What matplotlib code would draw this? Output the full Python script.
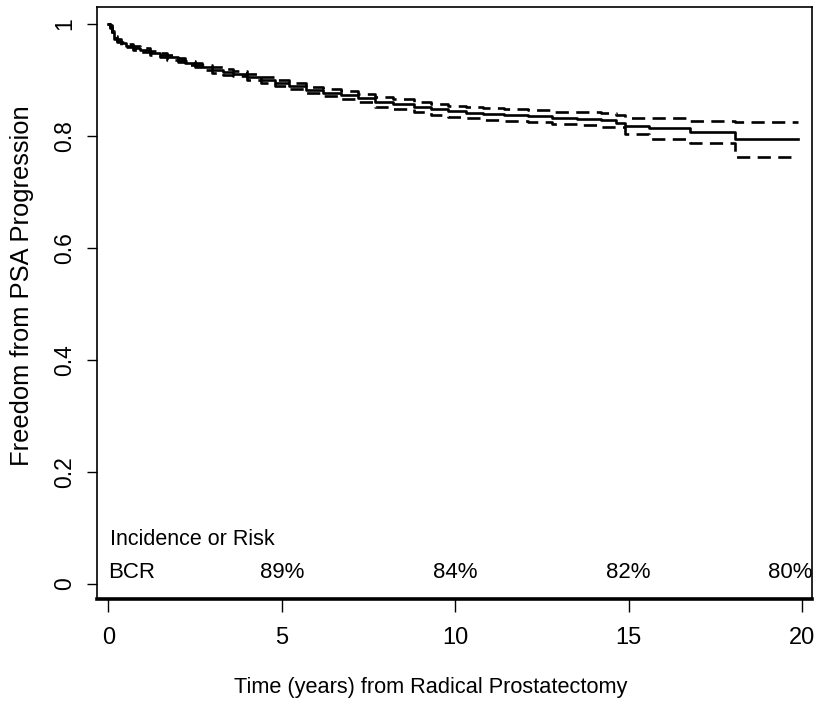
import matplotlib
matplotlib.use("Agg")
import matplotlib.pyplot as plt
from matplotlib import font_manager

# ---- data ----
times = [0, 0.05, 0.1, 0.15, 0.25, 0.35, 0.5, 0.7, 0.9, 1.2, 1.5, 1.7, 2.0, 2.2, 2.5,
         2.7, 3.0, 3.3, 3.6, 4.0, 4.4, 4.8, 5.2, 5.7, 6.2, 6.7, 7.2, 7.7, 8.2, 8.8,
         9.3, 9.8, 10.3, 10.8, 11.4, 12.1, 12.8, 13.5, 14.2, 14.65, 14.9, 15.6,
         16.77, 18.08, 19.88]
surv = [1.000, 0.995, 0.985, 0.975, 0.970, 0.965, 0.961, 0.957, 0.953, 0.948, 0.944,
        0.940, 0.935, 0.930, 0.926, 0.922, 0.918, 0.914, 0.911, 0.905, 0.900, 0.895,
        0.889, 0.882, 0.877, 0.873, 0.868, 0.860, 0.856, 0.851, 0.847, 0.844, 0.841,
        0.839, 0.837, 0.835, 0.832, 0.830, 0.828, 0.823, 0.818, 0.814, 0.807, 0.794,
        0.794]
upper = [1.000, 0.997, 0.988, 0.978, 0.973, 0.968, 0.964, 0.960, 0.956, 0.951, 0.947,
         0.944, 0.939, 0.934, 0.930, 0.926, 0.922, 0.919, 0.916, 0.910, 0.905, 0.900,
         0.895, 0.888, 0.883, 0.880, 0.875, 0.869, 0.865, 0.860, 0.857, 0.854, 0.851,
         0.849, 0.847, 0.846, 0.843, 0.842, 0.840, 0.838, 0.832, 0.832, 0.827, 0.824,
         0.824]
lower = [1.000, 0.993, 0.982, 0.972, 0.967, 0.962, 0.958, 0.954, 0.950, 0.945, 0.940,
         0.936, 0.931, 0.926, 0.922, 0.918, 0.913, 0.909, 0.906, 0.900, 0.895, 0.889,
         0.883, 0.876, 0.871, 0.866, 0.861, 0.852, 0.848, 0.842, 0.837, 0.834, 0.831,
         0.829, 0.826, 0.824, 0.821, 0.819, 0.816, 0.815, 0.804, 0.794, 0.787, 0.762,
         0.762]

x_ticks = [0, 5, 10, 15, 20]
y_ticks = [0, 0.2, 0.4, 0.6, 0.8, 1.0]
y_tick_labels = ["0", "0.2", "0.4", "0.6", "0.8", "1"]
risk_times = [5, 10, 15, 19.65]
risk_labels = ["89%", "84%", "82%", "80%"]

# ---- fonts ----
names = {f.name for f in font_manager.fontManager.ttflist}
narrow = "Liberation Sans Narrow" if "Liberation Sans Narrow" in names else "Liberation Sans"
regular = "Liberation Sans" if "Liberation Sans" in names else "DejaVu Sans"

fig = plt.figure(figsize=(8.15, 7.01), dpi=100)
ax = fig.add_axes([97 / 815, 1 - 599 / 701, (812 - 97) / 815, (599 - 7) / 701])

lw = 1.9
ax.step(times, surv, where="post", color="black", lw=lw)
ax.step(times, upper, where="post", color="black", lw=lw, linestyle=(0, (5, 2.8)))
ax.step(times, lower, where="post", color="black", lw=lw, linestyle=(0, (5, 2.8)))

ax.set_xlim(-0.33, 20.29)
ax.set_ylim(-0.027, 1.030)

ax.set_xticks(x_ticks)
ax.set_xticklabels([str(v) for v in x_ticks], fontfamily=narrow, fontsize=17)
ax.set_yticks(y_ticks)
ax.set_yticklabels(y_tick_labels, fontfamily=regular, fontsize=16.5, rotation=90, va="center")
ax.tick_params(axis="x", length=9, width=1.0, pad=11, color="black")
ax.tick_params(axis="y", length=7, width=1.0, pad=8, color="black")

for s in ["left", "top", "right"]:
    ax.spines[s].set_linewidth(1.2)
ax.spines["bottom"].set_linewidth(2.6)

ax.set_xlabel("Time (years) from Radical Prostatectomy", fontfamily=narrow, fontsize=15.7,
              va="center")
ax.xaxis.set_label_coords(0.466, -0.150)
ax.set_ylabel("Freedom from PSA Progression", fontfamily=regular, fontsize=18.4,
              va="center")
ax.yaxis.set_label_coords(-0.105, 0.530)

ax.text(0.05, 0.079, "Incidence or Risk", fontfamily=narrow, fontsize=15.5,
        ha="left", va="center")
ax.text(0.0, 0.021, "BCR", fontfamily=narrow, fontsize=16, ha="left", va="center")
for t, lab in zip(risk_times, risk_labels):
    ax.text(t, 0.021, lab, fontfamily=narrow, fontsize=16, ha="center", va="center")

fig.savefig("out.png", dpi=100)
